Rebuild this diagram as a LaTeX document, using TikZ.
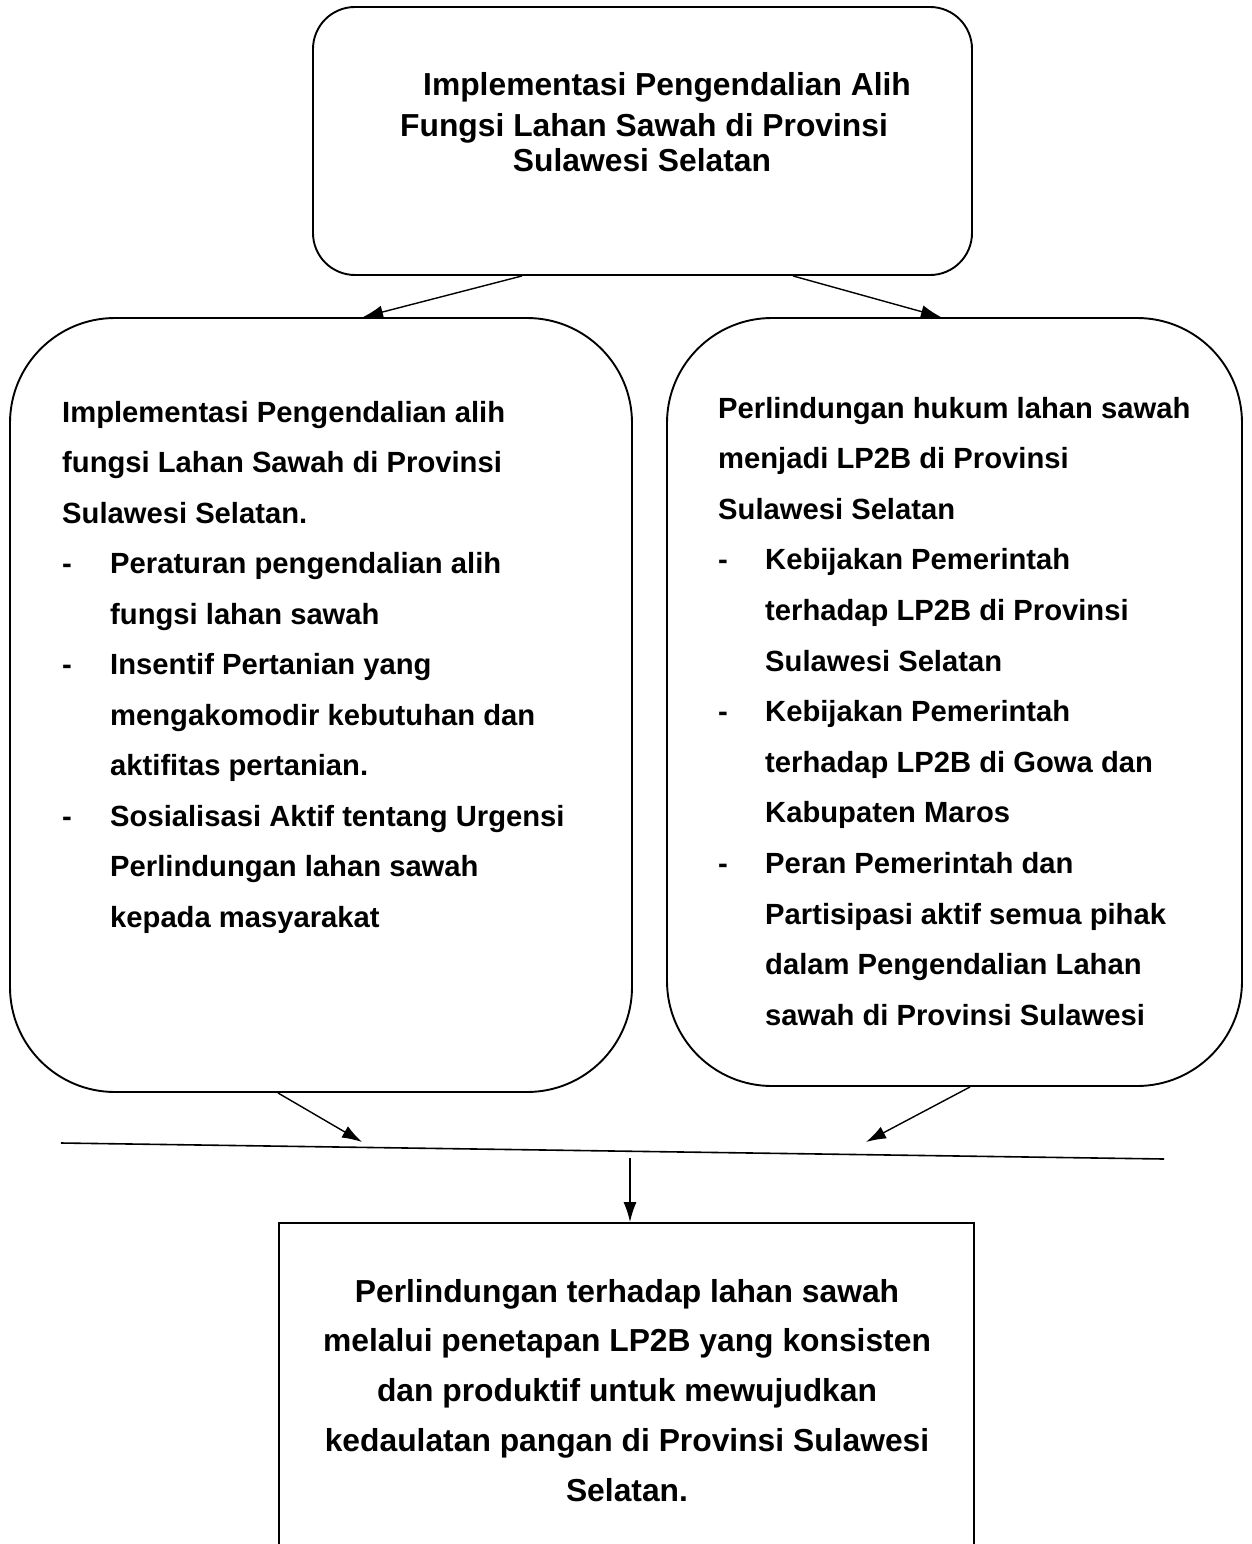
\documentclass[tikz,border=0pt]{standalone}
\usepackage{fontspec}
\setmainfont{Liberation Sans}
\usetikzlibrary{arrows.meta}
\begin{document}
\begin{tikzpicture}[x=1pt,y=-1pt,
  boxline/.style={draw=black,line width=1.9pt,inner sep=0pt},
  rbox/.style={boxline,rounded corners=#1},
  side/.style={anchor=base west,inner sep=0pt,font=\fontsize{29.2}{34}\selectfont\bfseries},
  dashmark/.style={anchor=base west,inner sep=0pt,font=\fontsize{29.2}{34}\selectfont\bfseries},
  big/.style={inner sep=0pt,font=\fontsize{31.8}{36}\selectfont\bfseries},
  arr/.style={line width=1.4pt,-{Latex[length=20pt,width=13pt]}}]
\useasboundingbox (0,0) rectangle (1251,1544);
\clip (0,0) rectangle (1251,1544);
\fill[white] (0,0) rectangle (1251,1544);

% boxes
\node[rbox=42pt,minimum width=659pt,minimum height=268pt] (top) at (642.5,141) {};
\node[rbox=105pt,minimum width=622pt,minimum height=774pt] (left) at (321,705) {};
\node[rbox=105pt,minimum width=575pt,minimum height=768pt] (right) at (954.5,702) {};
\node[boxline,minimum width=695pt,minimum height=340pt] (bottom) at (626.5,1393) {};

% top text
\node[big,anchor=base west] (t1) at (423,96) {Implementasi Pengendalian Alih};
\node[big,anchor=base west] (t2) at (400,137) {Fungsi Lahan Sawah di Provinsi};
\node[big,anchor=base] (t3) at (642,171) {Sulawesi Selatan};

% left text
\foreach \dx/\t [count=\i] in {
  0/Implementasi Pengendalian alih,
  0/fungsi Lahan Sawah di Provinsi,
  0/Sulawesi Selatan.,
  48/Peraturan pengendalian alih,
  48/fungsi lahan sawah,
  48/Insentif Pertanian yang,
  48/mengakomodir kebutuhan dan,
  48/aktifitas pertanian.,
  48/Sosialisasi Aktif tentang Urgensi,
  48/Perlindungan lahan sawah,
  48/kepada masyarakat}
  \node[side] (L\i) at (62+\dx,422+50.5*\i-50.5) {\t};
\foreach \i in {4,6,9}
  \node[dashmark] (Ld\i) at (62,422+50.5*\i-50.5) {-};

% right text
\foreach \dx/\t [count=\i] in {
  0/Perlindungan hukum lahan sawah,
  0/menjadi LP2B di Provinsi,
  0/Sulawesi Selatan,
  47/Kebijakan Pemerintah,
  47/terhadap LP2B di Provinsi,
  47/Sulawesi Selatan,
  47/Kebijakan Pemerintah,
  47/terhadap LP2B di Gowa dan,
  47/Kabupaten Maros,
  47/Peran Pemerintah dan,
  47/Partisipasi aktif semua pihak,
  47/dalam Pengendalian Lahan,
  47/sawah di Provinsi Sulawesi}
  \node[side] (R\i) at (718+\dx,418+50.6*\i-50.6) {\t};
\foreach \i in {4,7,10}
  \node[dashmark] (Rd\i) at (718,418+50.6*\i-50.6) {-};

% bottom text
\foreach \t [count=\i] in {
  Perlindungan terhadap lahan sawah,
  melalui penetapan LP2B yang konsisten,
  dan produktif untuk mewujudkan,
  kedaulatan pangan di Provinsi Sulawesi,
  Selatan.}
  \node[big,anchor=base] (B\i) at (627,1302+49.8*\i-49.8) {\t};

% join line
\coordinate (jA) at (61,1143);
\coordinate (jB) at (1164,1159);
\coordinate (jL) at (362,1142);
\coordinate (jR) at (866,1142);
\coordinate (jV) at (630,1158);
\draw[line width=1.6pt] (jA) -- (jB);

% connectors
\draw[arr] ([xshift=-120.5pt]top.south) -- ([xshift=42pt]left.north);
\draw[arr] ([xshift=150.5pt]top.south) -- ([xshift=-13.5pt]right.north);
\draw[arr] ([xshift=-43pt]left.south) -- (jL);
\draw[arr] ([xshift=15.5pt]right.south) -- (jR);
\draw[arr] (jV) -- ([xshift=3.5pt]bottom.north);
\end{tikzpicture}
\end{document}
